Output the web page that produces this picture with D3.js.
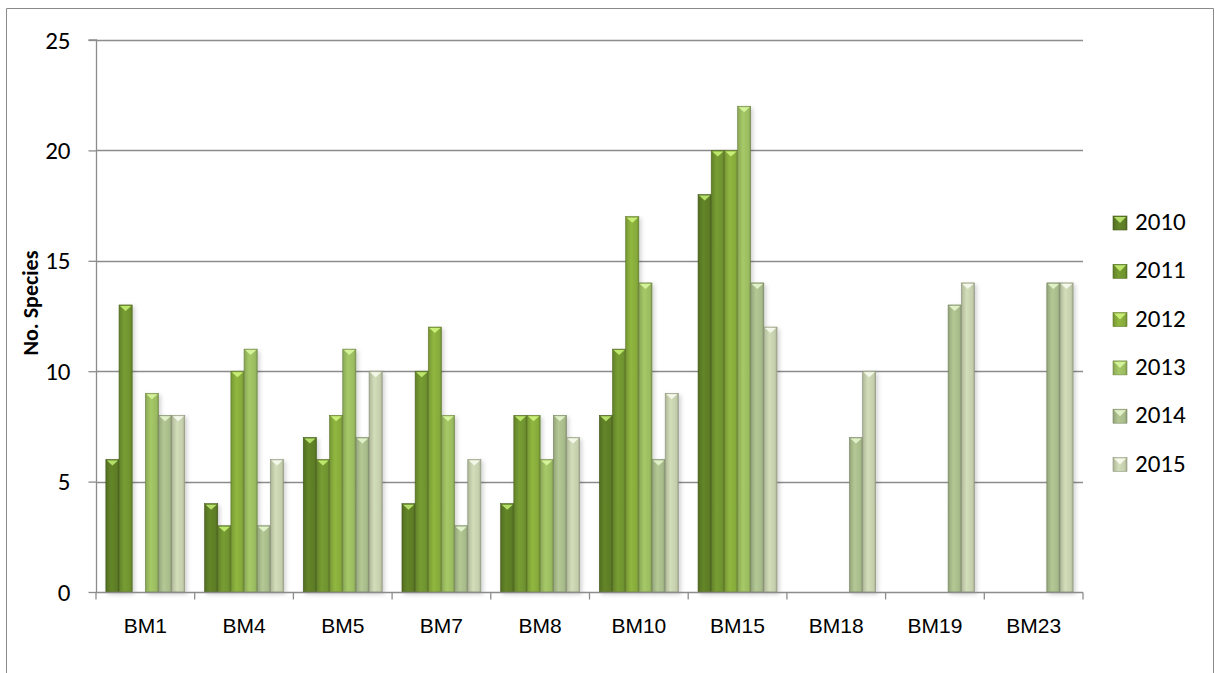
<!DOCTYPE html>
<html><head><meta charset="utf-8">
<script src="https://cdn.jsdelivr.net/npm/d3@7/dist/d3.min.js"></script>
<style>body{margin:0;background:#fff}svg{display:block}</style>
</head><body><svg id="c" width="1215" height="673"></svg>
<script>
const categories = ["BM1","BM4","BM5","BM7","BM8","BM10","BM15","BM18","BM19","BM23"];
const seriesNames = ["2010","2011","2012","2013","2014","2015"];
const s2010 = [6,4,7,4,4,8,18,0,0,0];
const s2011 = [13,3,6,10,8,11,20,0,0,0];
const s2012 = [0,10,8,12,8,17,20,0,0,0];
const s2013 = [9,11,11,8,6,14,22,0,0,0];
const s2014 = [8,3,7,3,8,6,14,7,13,14];
const s2015 = [8,6,10,6,7,9,12,10,14,14];
const yTicks = [0,5,10,15,20,25];
const seriesValues = [s2010,s2011,s2012,s2013,s2014,s2015];
const colors = ["#5d7c26","#6f922f","#86aa3b","#9bbb60","#a7ba8a","#c4ceac"];
const lights = ["#b4e06a","#bde66c","#c8ee78","#d4f29a","#e0f0c8","#f4f8ea"];
const calibri = "Carlito, Calibri, Lato, 'Open Sans', sans-serif";

const svg = d3.select("#c");
const defs = svg.append("defs");
colors.forEach((c,i)=>{
  const g = defs.append("linearGradient").attr("id","g"+i).attr("x1","0").attr("x2","1").attr("y1","0").attr("y2","0");
  const base = d3.color(c);
  g.append("stop").attr("offset","0%").attr("stop-color",base.darker(0.5));
  g.append("stop").attr("offset","12%").attr("stop-color",base.darker(0.15));
  g.append("stop").attr("offset","40%").attr("stop-color",base.brighter(0.2));
  g.append("stop").attr("offset","85%").attr("stop-color",base);
  g.append("stop").attr("offset","100%").attr("stop-color",base.darker(0.6));
});
const f = defs.append("filter").attr("id","sh").attr("x","-30%").attr("y","-10%").attr("width","170%").attr("height","130%");
f.append("feDropShadow").attr("dx",2).attr("dy",2).attr("stdDeviation",2).attr("flood-color","#000").attr("flood-opacity",0.18);

// outer border
svg.append("path").attr("d","M6.5,673 V8.5 H1213.5 V673").attr("fill","none").attr("stroke","#8a8a8a").attr("stroke-width",1);

const pLeft=96, pRight=1083, pTop=40, pBottom=592;
const x = d3.scaleBand().domain(categories).range([pLeft,pRight]);
const y = d3.scaleLinear().domain([0,25]).range([pBottom,pTop]);
const inner = d3.scaleBand().domain(seriesNames).range([0,x.bandwidth()*0.8]);

// gridlines
svg.append("g").selectAll("line").data(yTicks.filter(t=>t>0)).join("line")
  .attr("x1",pLeft).attr("x2",pRight).attr("y1",d=>Math.round(y(d))+0.5).attr("y2",d=>Math.round(y(d))+0.5)
  .attr("stroke","#8c8c8c").attr("stroke-width",1.3);

// y axis
const ya = svg.append("g").attr("transform",`translate(${pLeft+0.5},0)`)
  .call(d3.axisLeft(y).tickValues(yTicks).tickSize(8).tickPadding(18));
ya.select(".domain").attr("d",`M-8,${pTop}H0V${pBottom}`).attr("stroke","#8c8c8c").attr("stroke-width",1.3);
ya.selectAll(".tick line").attr("stroke","#8c8c8c").attr("stroke-width",1.3);
ya.selectAll(".tick text").attr("font-family",calibri).attr("font-size",25).attr("fill","#000");

// bars
seriesNames.forEach((s,si)=>{
  const data = categories.map((c,ci)=>({c, v:seriesValues[si][ci]})).filter(d=>d.v>0);
  const g = svg.append("g").attr("filter","url(#sh)");
  data.forEach(d=>{
    const bx = x(d.c) + x.bandwidth()*0.1 + inner(s);
    const bw = inner.bandwidth();
    const by = y(d.v);
    g.append("rect").attr("x",bx).attr("y",by).attr("width",bw).attr("height",pBottom-by)
      .attr("fill",`url(#g${si})`).attr("stroke",d3.color(colors[si]).darker(0.9)).attr("stroke-width",0.6);
    g.append("path").attr("d",`M${bx+1},${by+1}H${bx+bw-1}L${bx+bw/2},${by+6}Z`).attr("fill",lights[si]);
  });
});

// x axis
const xa = svg.append("g").attr("transform",`translate(0,${pBottom+0.5})`);
xa.append("line").attr("x1",pLeft).attr("x2",pRight).attr("stroke","#8c8c8c").attr("stroke-width",1.3);
xa.selectAll(".tk").data(d3.range(categories.length+1)).join("line")
  .attr("x1",i=>pLeft+i*x.step()).attr("x2",i=>pLeft+i*x.step()).attr("y1",0).attr("y2",7)
  .attr("stroke","#8c8c8c").attr("stroke-width",1.3);
xa.selectAll("text").data(categories).join("text")
  .attr("x",d=>x(d)+x.bandwidth()/2).attr("y",40).attr("text-anchor","middle")
  .attr("font-family","'Liberation Sans', Arial, sans-serif").attr("font-size",21).attr("fill","#000").text(d=>d);

// y title
svg.append("text").attr("transform","translate(38,303) rotate(-90)").attr("text-anchor","middle")
  .attr("font-family",calibri).attr("font-weight","bold").attr("font-size",22).text("No. Species");

// legend
const lg = svg.append("g");
seriesNames.forEach((s,i)=>{
  const ly = 230 + i*48.3;
  lg.append("rect").attr("x",1113).attr("y",ly-14).attr("width",14).attr("height",14).attr("fill",`url(#g${i})`)
    .attr("stroke",d3.color(colors[i]).darker(0.8)).attr("stroke-width",0.6);
  lg.append("path").attr("d",`M1114,${ly-13}H1126L1120,${ly-7}Z`).attr("fill",lights[i]);
  lg.append("text").attr("x",1135).attr("y",ly).attr("font-family",calibri)
    .attr("font-size",25).attr("fill","#000").text(s);
});
</script></body></html>
